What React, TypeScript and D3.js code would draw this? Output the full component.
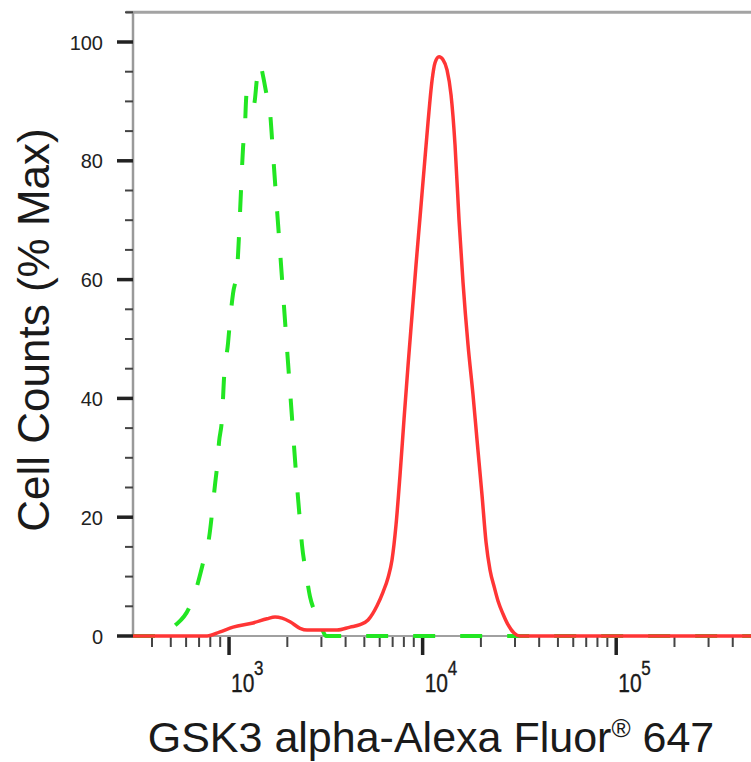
import React from "react";
import * as d3 from "d3";

// ---- data ----
const greenX = [319, 467, 508, 621, 683, 734, 788, 847, 867, 888, 920, 942, 988, 1012, 1049, 1100, 1126, 1153, 1181, 1209, 1224, 1238, 1284, 1346, 1395, 1446, 1498, 1553, 1628, 1688, 1748, 1834, 1923, 2017, 2115, 2219, 2299, 2382, 2499, 2620, 2748, 2882, 3023, 3170, 497000];
const greenY = [0, 0, 1.3, 4.7, 8.4, 12.3, 16.5, 25.6, 28.5, 32.7, 36.7, 43.4, 49.3, 53.2, 57.7, 61.6, 67.5, 75.1, 82.2, 86.0, 90.2, 92.1, 90.9, 89.6, 93.9, 96.3, 94.3, 91.6, 88.2, 81.1, 74.1, 64.8, 55.4, 46.0, 36.7, 27.3, 21.2, 15.3, 10.6, 6.6, 4.4, 2.9, 1.2, 0, 0];

const redX = [319, 770, 899, 1049, 1330, 1572, 1728, 1878, 2066, 2326, 2528, 3613, 4217, 4751, 5224, 5814, 6244, 6627, 6947, 7287, 7642, 8015, 8406, 8815, 9245, 9696, 10167, 10664, 11183, 11589, 12155, 12746, 13366, 14020, 14700, 15420, 16170, 17160, 18210, 19100, 20270, 21260, 22290, 23500, 24520, 26020, 27610, 29660, 31850, 497000];
const redY = [0, 0, 0.7, 1.5, 2.2, 2.9, 3.2, 3.0, 2.4, 1.3, 1.0, 1.0, 1.5, 1.9, 2.7, 5.1, 7.4, 9.8, 12.8, 18.7, 27.1, 36.5, 45.5, 54.0, 62.5, 70.5, 78.5, 86.5, 93.5, 96.5, 97.5, 97.0, 95.3, 91.1, 82.7, 70.0, 59.5, 49.0, 40.6, 33.0, 23.7, 15.8, 11.1, 8.1, 5.9, 3.7, 1.9, 0.5, 0, 0];

const xMajorTicks = [1e3, 1e4, 1e5];
const xTickExponents = ["3", "4", "5"];
const yMajorTicks = [0, 20, 40, 60, 80, 100];
const yTickLabels = ["0", "20", "40", "60", "80", "100"];
const xDomain = [319, 497000];
const yDomain = [0, 100];
const yTop = 105;

const xTitle = "GSK3 alpha-Alexa Fluor";
const xTitleMark = "®";
const xTitleEnd = " 647";
const yTitle = "Cell Counts (% Max)";

const W = 751;
const H = 762;
const FONT = "'Liberation Sans', Arial, Helvetica, sans-serif";

export default function App() {
  const x = d3.scaleLog().domain(xDomain).range([133, 751]);
  const y = d3.scaleLinear().domain(yDomain).range([636, 42]);

  const minorX: number[] = [];
  [100, 1000, 10000, 100000].forEach((d) => {
    for (let k = 2; k <= 9; k++) {
      const v = k * d;
      if (v >= xDomain[0] && v <= xDomain[1]) minorX.push(v);
    }
  });
  const minorY: number[] = [];
  for (let v = 5; v <= yTop; v += 5) if (v % 20 !== 0) minorY.push(v);

  const line = d3
    .line<[number, number]>()
    .x((d) => x(d[0]))
    .y((d) => y(d[1]))
    .curve(d3.curveMonotoneX);

  const green = line(greenX.map((v, i) => [v, greenY[i]] as [number, number])) || "";
  const red = line(redX.map((v, i) => [v, redY[i]] as [number, number])) || "";

  const top = y(yTop);
  const x0 = x(xDomain[0]);
  const y0 = y(0);

  return (
    <svg
      width={W}
      height={H}
      viewBox={`0 0 ${W} ${H}`}
      style={{ position: "absolute", left: 0, top: 0, background: "#fff" }}
      fontFamily={FONT}
    >
      <defs>
        <clipPath id="plot">
          <rect x={x0} y={top - 5} width={W - x0} height={y0 - top + 10} />
        </clipPath>
      </defs>
      <rect x={0} y={0} width={W} height={H} fill="#fff" />

      {/* frame */}
      <line x1={x0 - 7} x2={W} y1={top} y2={top} stroke="#a3a3a3" strokeWidth={3} />
      <line x1={x0} x2={x0} y1={top} y2={y0} stroke="#9a9a9a" strokeWidth={2.5} />
      <line x1={x0} x2={W} y1={y0} y2={y0} stroke="#a0a0a0" strokeWidth={2} />

      {/* y ticks */}
      {minorY.map((v) => (
        <line key={"my" + v} x1={x0 - 8} x2={x0} y1={y(v)} y2={y(v)} stroke="#444" strokeWidth={2} />
      ))}
      {yMajorTicks.map((v, i) => (
        <g key={"Y" + v}>
          <line x1={x0 - 16} x2={x0} y1={y(v)} y2={y(v)} stroke="#222" strokeWidth={3.5} />
          <text x={103} y={y(v) + 7.5} textAnchor="end" fontSize={20} fill="#222">
            {yTickLabels[i]}
          </text>
        </g>
      ))}

      {/* x ticks */}
      {minorX.map((v) => (
        <line key={"mx" + v} x1={x(v)} x2={x(v)} y1={y0 + 1} y2={y0 + 11} stroke="#444" strokeWidth={2} />
      ))}
      {xMajorTicks.map((v, i) => (
        <g key={"X" + v}>
          <line x1={x(v)} x2={x(v)} y1={y0 + 1} y2={y0 + 19} stroke="#222" strokeWidth={3.5} />
          <g transform={`translate(${x(v) + 2},692) scale(1,1.2)`}>
            <text x={0} y={0} fontSize={21} fill="#1a1a1a" stroke="#1a1a1a" strokeWidth={0.3}>10</text>
          </g>
          <g transform={`translate(${x(v) + 25},675) scale(1,1.15)`}>
            <text x={0} y={0} fontSize={17} fill="#1a1a1a" stroke="#1a1a1a" strokeWidth={0.3}>{xTickExponents[i]}</text>
          </g>
        </g>
      ))}

      {/* curves */}
      <g clipPath="url(#plot)">
        <path d={green} fill="none" stroke="#22e622" strokeWidth={4} strokeDasharray="22 25" />
        <path d={red} fill="none" stroke="#ff3535" strokeWidth={3.5} strokeLinejoin="round" />
      </g>

      {/* titles */}
      <text x={431} y={752} textAnchor="middle" fontSize={43} fill="#1a1a1a">
        {xTitle}
        <tspan fontSize={26} dy={-15}>{xTitleMark}</tspan>
        <tspan dy={15}>{xTitleEnd}</tspan>
      </text>
      <text
        transform={`translate(49,330) rotate(-90)`}
        textAnchor="middle"
        fontSize={44}
        fill="#1a1a1a"
      >
        {yTitle}
      </text>
    </svg>
  );
}
